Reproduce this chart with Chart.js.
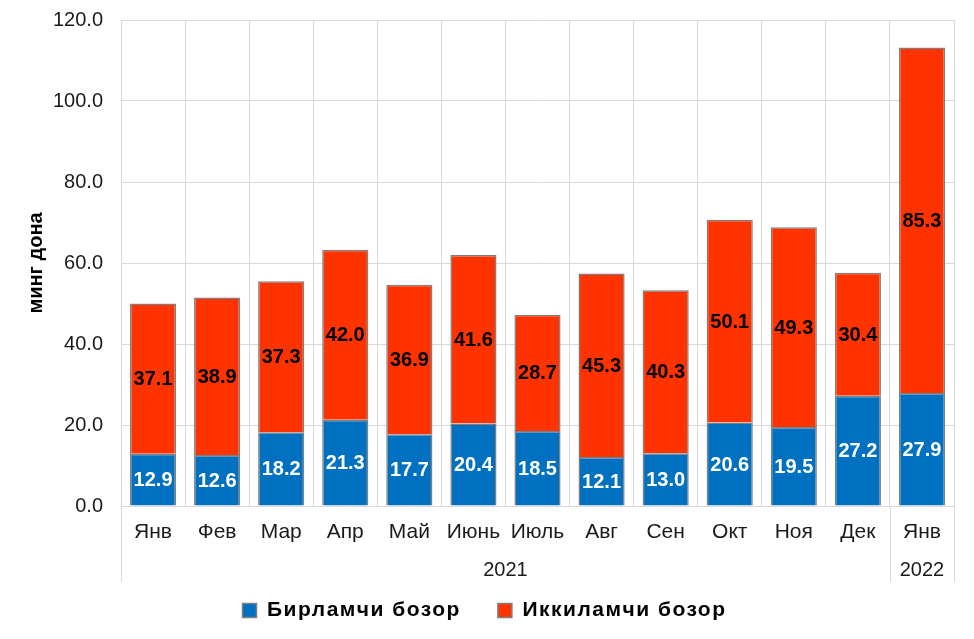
<!DOCTYPE html>
<html>
<head>
<meta charset="utf-8">
<script src="https://cdn.jsdelivr.net/npm/chart.js@4"></script>
<style>
html,body{margin:0;padding:0;background:#fff;}
#wrap{width:974px;height:639px;position:relative;}
</style>
</head>
<body>
<div id="wrap"><canvas id="c"></canvas></div>
<script>
const months = ['Янв','Фев','Мар','Апр','Май','Июнь','Июль','Авг','Сен','Окт','Ноя','Дек','Янв'];
const years = ['2021','2022'];
const yearSpans = [12, 1];
const primaryMarket = [12.9,12.6,18.2,21.3,17.7,20.4,18.5,12.1,13.0,20.6,19.5,27.2,27.9];
const secondaryMarket = [37.1,38.9,37.3,42.0,36.9,41.6,28.7,45.3,40.3,50.1,49.3,30.4,85.3];
const seriesNames = ['Бирламчи бозор','Иккиламчи бозор'];
const axisTitle = 'минг дона';

const FONT = "'Liberation Sans', Arial, sans-serif";
const GRID = '#d9d9d9';

const valueLabels = {
  id: 'valueLabels',
  afterDatasetsDraw(chart) {
    const ctx = chart.ctx;
    ctx.save();
    ctx.font = 'bold 20px ' + FONT;
    ctx.textAlign = 'center';
    ctx.textBaseline = 'middle';
    chart.data.datasets.forEach((ds, di) => {
      const meta = chart.getDatasetMeta(di);
      ctx.fillStyle = di === 0 ? '#ffffff' : '#000000';
      meta.data.forEach((el, i) => {
        const p = el.getProps(['x','y','base'], true);
        ctx.fillText(ds.data[i].toFixed(1), p.x, (p.y + p.base) / 2 + 1);
      });
    });
    ctx.restore();
  }
};

const legendSpacing = {
  id: 'legendSpacing',
  beforeLayout(chart) {
    const lg = chart.legend;
    if (!lg || lg._spaced) return;
    lg._spaced = true;
    const wrap = (fn) => function () {
      const c = this.ctx;
      const prev = c.letterSpacing;
      c.letterSpacing = '1.5px';
      const r = fn.apply(this, arguments);
      c.letterSpacing = prev || '0px';
      return r;
    };
    lg.fit = wrap(lg.fit);
    lg.draw = wrap(lg.draw);
  }
};

const yearAxis = {
  id: 'yearAxis',
  afterDraw(chart) {
    const x = chart.scales.x;
    const ctx = chart.ctx;
    const half = (x.getPixelForValue(1) - x.getPixelForValue(0)) / 2;
    const top = chart.chartArea.bottom;
    const bottom = top + 76;
    ctx.save();
    ctx.strokeStyle = GRID;
    ctx.lineWidth = 1;
    let start = 0;
    const bounds = [x.getPixelForValue(0) - half];
    yearSpans.forEach((span) => {
      const end = start + span - 1;
      bounds.push(x.getPixelForValue(end) + half);
      start += span;
    });
    bounds.forEach((bx) => {
      const px = Math.round(bx) + 0.5;
      ctx.beginPath();
      ctx.moveTo(px, top);
      ctx.lineTo(px, bottom);
      ctx.stroke();
    });
    ctx.fillStyle = '#1a1a1a';
    ctx.font = '20px ' + FONT;
    ctx.textAlign = 'center';
    ctx.textBaseline = 'middle';
    years.forEach((yr, i) => {
      ctx.fillText(yr, (bounds[i] + bounds[i + 1]) / 2, top + 64);
    });
    ctx.restore();
  }
};

new Chart(document.getElementById('c'), {
  type: 'bar',
  data: {
    labels: months,
    datasets: [
      {
        label: seriesNames[0],
        data: primaryMarket,
        backgroundColor: '#0070C0',
        borderColor: '#7f7f7f',
        borderWidth: 1.5,
        categoryPercentage: 1,
        barPercentage: 0.72
      },
      {
        label: seriesNames[1],
        data: secondaryMarket,
        backgroundColor: '#FF3300',
        borderColor: '#7f7f7f',
        borderWidth: 1.5,
        categoryPercentage: 1,
        barPercentage: 0.72
      }
    ]
  },
  options: {
    responsive: true,
    maintainAspectRatio: false,
    animation: false,
    layout: { padding: { left: 15, right: 20, top: 20, bottom: 8 } },
    plugins: {
      tooltip: { enabled: false },
      legend: {
        position: 'bottom',
        labels: {
          boxWidth: 14,
          boxHeight: 14,
          padding: 37,
          color: '#000',
          font: { family: FONT, size: 21, weight: 'bold' }
        }
      }
    },
    scales: {
      x: {
        stacked: true,
        grid: { color: GRID, drawTicks: false, offset: true },
        border: { display: false },
        ticks: { color: '#1a1a1a', padding: 14, font: { family: FONT, size: 21 } },
        afterFit(s) { s.height = 57; }
      },
      y: {
        stacked: true,
        min: 0,
        max: 120,
        grid: { color: GRID, drawTicks: false },
        border: { display: false },
        ticks: {
          stepSize: 20,
          color: '#1a1a1a',
          padding: 18,
          font: { family: FONT, size: 20 },
          callback: (v) => Number(v).toFixed(1)
        },
        title: {
          display: true,
          text: axisTitle,
          color: '#000',
          padding: { top: 9, bottom: 0 },
          font: { family: FONT, size: 20, weight: 'bold' }
        },
        afterFit(s) { s.width = 106; s.paddingTop = 0; s.paddingBottom = 0; }
      }
    }
  },
  plugins: [valueLabels, legendSpacing, yearAxis]
});
</script>
</body>
</html>
